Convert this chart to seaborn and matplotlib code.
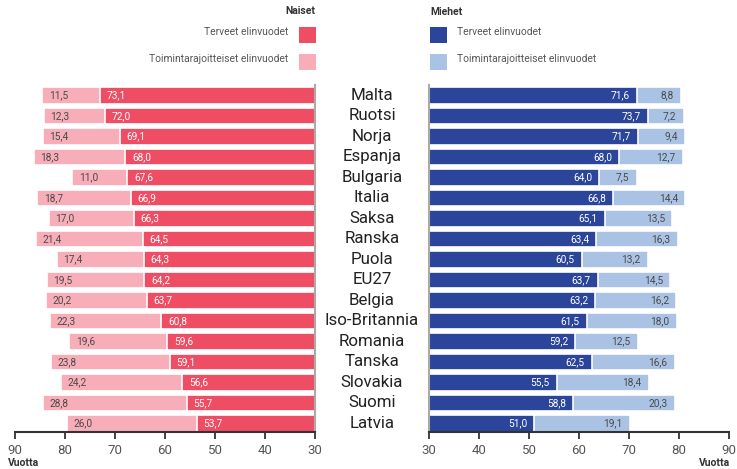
import matplotlib
matplotlib.use("Agg")
import matplotlib.pyplot as plt
import matplotlib.transforms as mtrans
from matplotlib.patches import Rectangle
import seaborn as sns
import pandas as pd

countries = ["Malta", "Ruotsi", "Norja", "Espanja", "Bulgaria", "Italia", "Saksa",
             "Ranska", "Puola", "EU27", "Belgia", "Iso-Britannia", "Romania",
             "Tanska", "Slovakia", "Suomi", "Latvia"]
women_healthy = [73.1, 72.0, 69.1, 68.0, 67.6, 66.9, 66.3, 64.5, 64.3, 64.2, 63.7,
                 60.8, 59.6, 59.1, 56.6, 55.7, 53.7]
women_limited = [11.5, 12.3, 15.4, 18.3, 11.0, 18.7, 17.0, 21.4, 17.4, 19.5, 20.2,
                 22.3, 19.6, 23.8, 24.2, 28.8, 26.0]
men_healthy = [71.6, 73.7, 71.7, 68.0, 64.0, 66.8, 65.1, 63.4, 60.5, 63.7, 63.2,
               61.5, 59.2, 62.5, 55.5, 58.8, 51.0]
men_limited = [8.8, 7.2, 9.4, 12.7, 7.5, 14.4, 13.5, 16.3, 13.2, 14.5, 16.2,
               18.0, 12.5, 16.6, 18.4, 20.3, 19.1]
ticks = [30, 40, 50, 60, 70, 80, 90]

sns.set_style("white")
plt.rcParams["font.family"] = ["Roboto", "DejaVu Sans"]

RED, PINK = "#EE4D64", "#F8AEB8"
BLUE, LBLUE = "#2A4599", "#AAC3E5"
GRAY = "#4A4A4A"

df = pd.DataFrame({
    "country": countries,
    "wh": women_healthy, "wl": women_limited,
    "mh": men_healthy, "ml": men_limited,
})
df["wt"] = df["wh"] + df["wl"]
df["mt"] = df["mh"] + df["ml"]

W, H = 737, 469
fig = plt.figure(figsize=(W / 100, H / 100), dpi=100)
bot = 1 - 432 / H
hgt = (432 - 85) / H
axL = fig.add_axes([15 / W, bot, 300 / W, hgt])
axR = fig.add_axes([429 / W, bot, 300 / W, hgt])

bw = 0.8
for ax, tot, hl, c1, c2 in [(axL, "wt", "wh", PINK, RED), (axR, "mt", "mh", LBLUE, BLUE)]:
    sns.barplot(data=df, x=tot, y="country", orient="h", color=c1, saturation=1,
                width=bw, edgecolor="white", linewidth=1.2, ax=ax)
    sns.barplot(data=df, x=hl, y="country", orient="h", color=c2, saturation=1,
                width=bw, edgecolor="white", linewidth=1.2, ax=ax)
    ax.set_ylim(16.42, -0.51)
    ax.set_ylabel("")
    ax.set_xlabel("")
    ax.set_yticks([])
    ax.set_xticks(ticks)
    ax.set_xticklabels([str(t) for t in ticks])
    ax.tick_params(axis="x", direction="out", length=5, width=1.3, color="#333333",
                   labelsize=9.5, labelcolor="#555555", pad=3.5, bottom=True)
    for s in ["top", "left", "right", "bottom"]:
        ax.spines[s].set_visible(False)
    ax.spines["bottom"].set_visible(True)
    ax.spines["bottom"].set_color("#333333")
    ax.spines["bottom"].set_linewidth(1.5)

axL.set_xlim(90, 30)
axR.set_xlim(30, 90)
axL.spines["right"].set_visible(True)
axL.spines["right"].set_color("#AAAAAA")
axL.spines["right"].set_linewidth(1.5)
axR.spines["left"].set_visible(True)
axR.spines["left"].set_color("#AAAAAA")
axR.spines["left"].set_linewidth(1.5)

fmt = lambda v: f"{v:.1f}".replace(".", ",")
fs = 7.3
for i, row in df.iterrows():
    axL.annotate(fmt(row.wh), (row.wh, i), xytext=(5, 0), textcoords="offset points",
                 ha="left", va="center", color="white", fontsize=fs)
    axL.annotate(fmt(row.wl), (row.wt, i), xytext=(5, 0), textcoords="offset points",
                 ha="left", va="center", color=GRAY, fontsize=fs)
    axR.annotate(fmt(row.mh), (row.mh, i), xytext=(-5, 0), textcoords="offset points",
                 ha="right", va="center", color="white", fontsize=fs)
    axR.annotate(fmt(row.ml), (row.mt, i), xytext=(-5, 0), textcoords="offset points",
                 ha="right", va="center", color=GRAY, fontsize=fs)

trans = mtrans.blended_transform_factory(fig.transFigure, axL.transData)
for i, c in enumerate(countries):
    axL.text(372 / W, i, c, transform=trans, ha="center", va="center",
             fontsize=12.2, color="#222222", clip_on=False)

def fy(py):
    return 1 - py / H

fig.text(315 / W, fy(11), "Naiset", ha="right", va="center", fontsize=7.5,
         fontweight="bold", color="#333333")
fig.text(430 / W, fy(12), "Miehet", ha="left", va="center", fontsize=7.5,
         fontweight="bold", color="#333333")
for (x0, c, py, tx, ha, label) in [
    (299, RED, 27, 288, "right", "Terveet elinvuodet"),
    (299, PINK, 54, 288, "right", "Toimintarajoitteiset elinvuodet"),
    (430, BLUE, 27, 457, "left", "Terveet elinvuodet"),
    (430, LBLUE, 54, 457, "left", "Toimintarajoitteiset elinvuodet"),
]:
    fig.patches.append(Rectangle((x0 / W, fy(py + 16)), 17 / W, 16 / H,
                                 transform=fig.transFigure, facecolor=c,
                                 edgecolor="none"))
    fig.text(tx / W, fy(py + 5), label, ha=ha, va="center", fontsize=7.4, color="#555555")

fig.text(8 / W, fy(463), "Vuotta", ha="left", va="center", fontsize=7.5,
         fontweight="bold", color="#333333")
fig.text(730 / W, fy(463), "Vuotta", ha="right", va="center", fontsize=7.5,
         fontweight="bold", color="#333333")

fig.savefig("out.png", dpi=100)
